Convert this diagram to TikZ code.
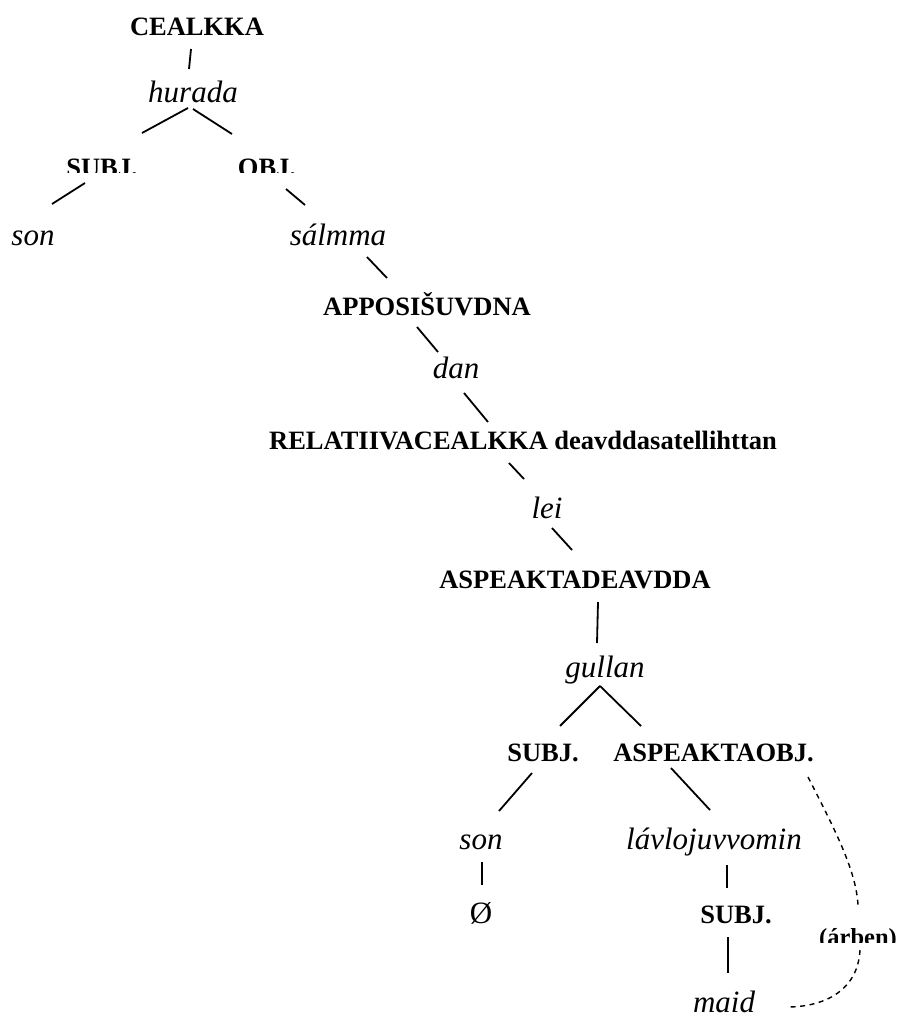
\documentclass[tikz,border=0pt]{standalone}
\usepackage{fontspec}
\setmainfont{Liberation Serif}
\begin{document}
\begin{tikzpicture}[x=1pt,y=-1pt,
  lab/.style={inner sep=0pt,outer sep=0pt,anchor=base,font=\fontsize{26.5}{30}\selectfont\bfseries},
  lex/.style={inner sep=0pt,outer sep=0pt,anchor=base,font=\fontsize{31}{36}\selectfont\itshape},
  zero/.style={inner sep=0pt,outer sep=0pt,anchor=base,font=\fontsize{31}{36}\selectfont},
  small/.style={inner sep=0pt,outer sep=0pt,anchor=base,font=\fontsize{24.5}{28}\selectfont\bfseries},
  edge/.style={line width=1.8pt},
  link/.style={line width=1.4pt,dash pattern=on 5pt off 4.5pt}]
\useasboundingbox (0,0) rectangle (904,1019);
% nodes
\node[lab] (cealkka) at (197,36) {CEALKKA};
\node[lex] (hurada) at (193,103) {hurada};
\begin{scope}
\clip (0,0) rectangle (904,173);
\node[lab] (subjA) at (102,176) {SUBJ.};
\node[lab] (objA) at (267,176) {OBJ.};
\end{scope}
\node[lex] (sonA) at (33,245) {son};
\node[lex] (salmma) at (338,245) {sálmma};
\node[lab] (appos) at (427,315) {APPOSIŠUVDNA};
\node[lex] (dan) at (456,378) {dan};
\node[lab] (rel) at (523,449) {RELATIIVACEALKKA deavddasatellihttan};
\node[lex] (lei) at (547,518) {lei};
\node[lab] (aspdeav) at (575,588) {ASPEAKTADEAVDDA};
\node[lex] (gullan) at (605,677) {gullan};
\node[lab] (subjB) at (543,761) {SUBJ.};
\node[lab] (aobj) at (713.5,761) {ASPEAKTAOBJ.};
\node[lex] (sonB) at (481,849) {son};
\node[lex] (lavlo) at (714,849) {lávlojuvvomin};
\node[zero] (empty) at (481,923) {Ø};
\node[lab] (subjC) at (736,923) {SUBJ.};
\node[lex] (maid) at (724,1012) {maid};
\begin{scope}
\clip (0,0) rectangle (904,942);
\node[small] (arben) at (858,945) {(árben)};
\end{scope}
% connectors
\draw[edge] ([shift={(-6,13)}]cealkka.base) -- ([shift={(-4,-34)}]hurada.base);
\draw[edge] ([shift={(-5,5)}]hurada.base) -- ([shift={(40,-43)}]subjA.base);
\draw[edge] ([shift={(0,6)}]hurada.base) -- ([shift={(-35,-42)}]objA.base);
\draw[edge] ([shift={(-17,7)}]subjA.base) -- ([shift={(19,-41)}]sonA.base);
\draw[edge] ([shift={(19,13)}]objA.base) -- ([shift={(-33,-40)}]salmma.base);
\draw[edge] ([shift={(29,12)}]salmma.base) -- ([shift={(-40,-37)}]appos.base);
\draw[edge] ([shift={(-10,12)}]appos.base) -- ([shift={(-18,-26)}]dan.base);
\draw[edge] ([shift={(8,15)}]dan.base) -- ([shift={(-35,-27)}]rel.base);
\draw[edge] ([shift={(-14,14)}]rel.base) -- ([shift={(-23,-39)}]lei.base);
\draw[edge] ([shift={(5,10)}]lei.base) -- ([shift={(-3,-38)}]aspdeav.base);
\draw[edge] ([shift={(23,14)}]aspdeav.base) -- ([shift={(-8,-34)}]gullan.base);
\draw[edge] ([shift={(-5,9)}]gullan.base) -- ([shift={(17,-35)}]subjB.base);
\draw[edge] ([shift={(-5,9)}]gullan.base) -- ([shift={(-72.5,-35)}]aobj.base);
\draw[edge] ([shift={(-11,12)}]subjB.base) -- ([shift={(18,-38)}]sonB.base);
\draw[edge] ([shift={(-42.5,7)}]aobj.base) -- ([shift={(-4,-39)}]lavlo.base);
\draw[edge] ([shift={(1,13)}]sonB.base) -- ([shift={(1,-38)}]empty.base);
\draw[edge] ([shift={(13,16)}]lavlo.base) -- ([shift={(-9,-35)}]subjC.base);
\draw[edge] ([shift={(-8,14)}]subjC.base) -- ([shift={(4,-39)}]maid.base);
% dashed link
\draw[link] ([shift={(94.5,16)}]aobj.base) .. controls (835,830) and (856,870) .. ([shift={(0,-40)}]arben.base);
\draw[link] ([shift={(2,5)}]arben.base) .. controls (858,990) and (825,1007) .. ([shift={(63,-5)}]maid.base);
\end{tikzpicture}
\end{document}
